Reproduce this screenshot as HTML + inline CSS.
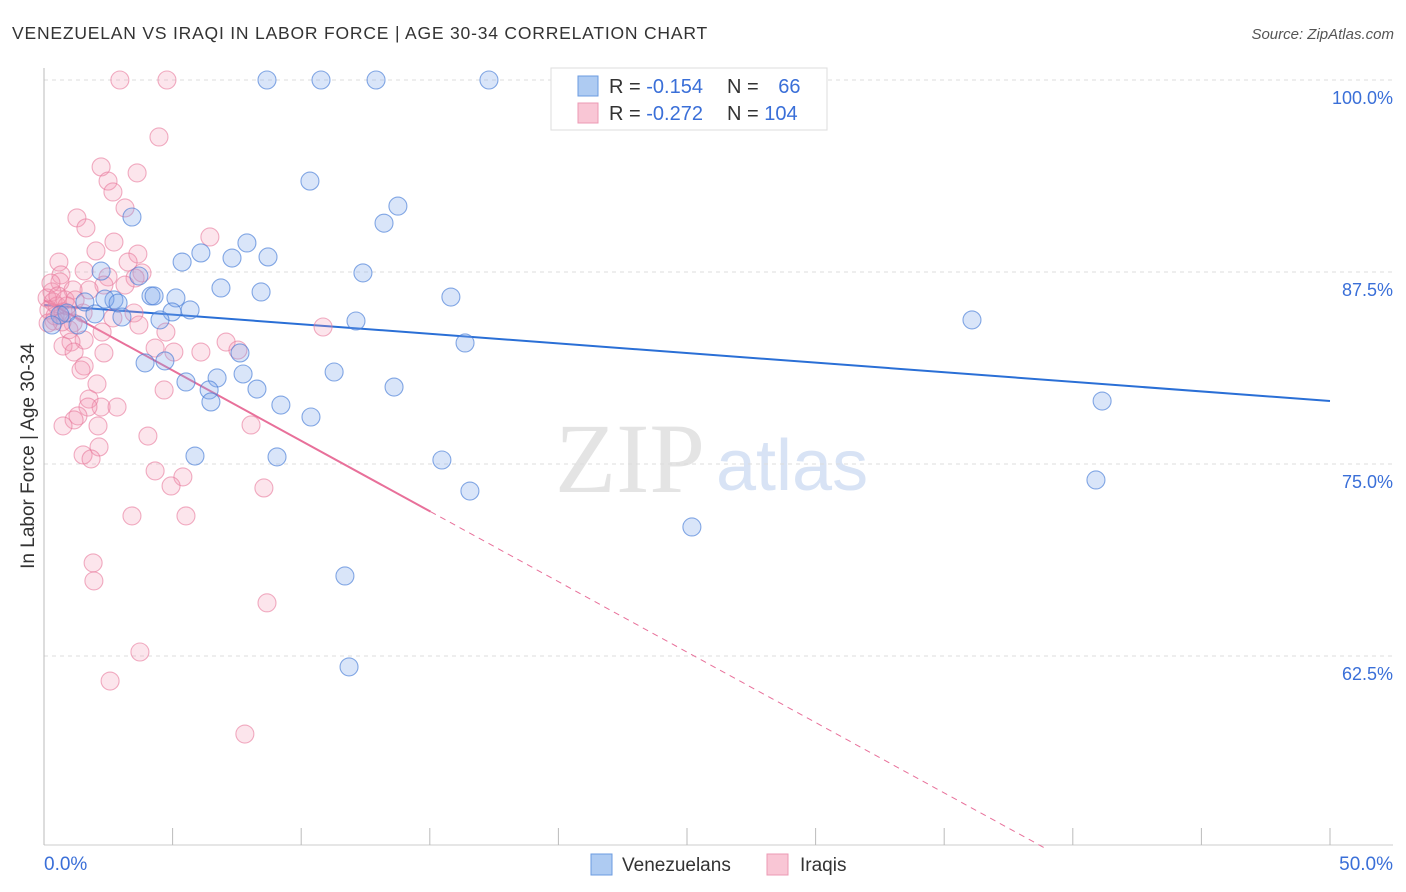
<!DOCTYPE html>
<html><head><meta charset="utf-8"><style>
body{margin:0;background:#fff;font-family:"Liberation Sans",sans-serif;}
svg{display:block}
</style></head><body>
<svg id="chart" width="1406" height="892" xmlns="http://www.w3.org/2000/svg">
<text x="12" y="39" font-size="17.5" fill="#333" letter-spacing="0.8">VENEZUELAN VS IRAQI IN LABOR FORCE | AGE 30-34 CORRELATION CHART</text>
<text x="1394" y="39" font-size="15" fill="#555" font-style="italic" text-anchor="end">Source: ZipAtlas.com</text>
<text transform="translate(34,456) rotate(-90)" font-size="19" fill="#333" text-anchor="middle">In Labor Force | Age 30-34</text>
<text x="555" y="492" font-size="100" fill="#e4e4e4" font-family="Liberation Serif,serif">ZIP</text>
<text x="716" y="490" font-size="72" fill="#d8e3f5">atlas</text>
<g id="grid"></g><g id="axes"></g><g id="trend"></g><g id="pts"></g>
<g>
<rect x="551" y="68" width="276" height="62" fill="#fff" stroke="#ddd"/>
<rect x="578" y="76" width="20" height="20" fill="#aecbf2" stroke="#6b9be0"/>
<rect x="578" y="103" width="20" height="20" fill="#f9c6d5" stroke="#ec9ab4"/>
<text x="609" y="93" font-size="20" fill="#333">R = <tspan fill="#3a6fd8">-0.154</tspan></text>
<text x="727" y="93" font-size="20" fill="#333">N = <tspan fill="#3a6fd8" dx="14">66</tspan></text>
<text x="609" y="120" font-size="20" fill="#333">R = <tspan fill="#3a6fd8">-0.272</tspan></text>
<text x="727" y="120" font-size="20" fill="#333">N = <tspan fill="#3a6fd8">104</tspan></text>
</g>
<g>
<rect x="591" y="854" width="21" height="21" fill="#aecbf2" stroke="#6b9be0"/>
<text x="622" y="871" font-size="19" fill="#333">Venezuelans</text>
<rect x="767" y="854" width="21" height="21" fill="#f9c6d5" stroke="#ec9ab4"/>
<text x="800" y="871" font-size="19" fill="#333">Iraqis</text>
</g>
</svg>
<script>
const yTicks=[100,87.5,75,62.5];
const yTickLabels=["100.0%","87.5%","75.0%","62.5%"];
const xTickLabels=["0.0%","50.0%"];
const venX=[8.67,10.77,12.91,17.30,21.31,10.34,13.76,13.22,3.42,7.89,6.10,7.31,8.71,5.37,2.22,3.69,12.40,6.88,8.44,4.16,4.28,5.13,2.72,2.37,1.59,2.88,5.68,4.98,15.82,3.03,4.51,12.13,36.08,0.89,1.98,0.62,1.32,0.31,16.37,7.62,4.70,3.93,11.28,7.74,6.73,5.52,13.61,6.42,8.28,6.49,9.21,41.14,10.38,5.87,9.06,15.47,16.56,40.90,25.19,11.70,11.86];
const venY=[100,100,100,100,99.9,93.42,91.79,90.68,91.08,89.39,88.74,88.41,88.48,88.15,87.56,87.24,87.44,86.46,86.20,85.94,85.94,85.81,85.68,85.74,85.55,85.48,85.03,84.90,85.87,84.57,84.38,84.31,84.38,84.83,84.77,84.70,84.05,84.05,82.88,82.23,81.71,81.58,80.99,80.86,80.60,80.34,80.01,79.82,79.88,79.04,78.84,79.10,78.06,75.52,75.46,75.26,73.24,73.96,70.90,67.71,61.79];
const iraX=[2.95,4.78,4.47,2.22,3.62,2.49,2.68,3.15,1.28,1.63,6.45,2.72,3.65,2.02,0.58,3.27,0.66,1.56,3.81,2.49,3.54,0.62,2.33,3.15,1.75,1.13,0.31,0.12,0.35,0.51,0.82,1.21,0.19,0.74,1.52,3.50,2.68,0.39,1.13,3.69,0.97,2.26,4.74,10.85,1.56,1.05,7.08,0.74,4.32,7.54,1.17,5.05,6.10,2.33,1.56,1.44,2.06,4.67,1.75,2.22,2.84,1.71,1.32,1.17,8.05,0.74,2.10,4.04,2.14,1.52,1.83,4.32,5.40,4.94,8.55,3.42,5.52,1.91,1.94,8.67,3.73,2.57,7.81,0.27,0.43,0.89,0.54,0.70,0.16];
const iraY=[100,100,96.29,94.34,93.95,93.42,92.71,91.67,91.02,90.37,89.78,89.45,88.67,88.87,88.15,88.15,87.31,87.57,87.44,87.18,87.11,86.85,86.65,86.65,86.33,86.33,86.20,85.81,85.55,85.29,85.68,85.68,85.03,84.90,84.83,84.83,84.51,84.31,84.18,84.05,83.74,83.59,83.59,83.92,83.07,82.94,82.94,82.68,82.55,82.42,82.29,82.29,82.29,82.23,81.38,81.12,80.21,79.82,79.23,78.71,78.71,78.71,78.13,77.87,77.54,77.48,77.48,76.82,76.11,75.59,75.33,74.55,74.16,73.57,73.44,71.62,71.62,68.56,67.39,65.96,62.76,60.87,57.42,86.78,84.64,85.29,85.94,84.25,84.18];
const venTrend=[85.35,79.10];   // y at x=0 and x=50
const iraTrend=[85.68,-0.917];  // intercept, slope
const iraSolidEnd=15.03;
const NS="http://www.w3.org/2000/svg";
const X=v=>44+v/50*1286, Y=v=>80+(100-v)/12.5*192;
function mk(t,a,p){const e=document.createElementNS(NS,t);for(const k in a)e.setAttribute(k,a[k]);p.appendChild(e);return e;}
const grid=document.getElementById('grid'),axes=document.getElementById('axes'),trend=document.getElementById('trend'),pts=document.getElementById('pts');
yTicks.forEach((v,i)=>{
 const l=mk('line',{x1:44,x2:1393,y1:Y(v),y2:Y(v),stroke:'#ddd','stroke-dasharray':'4,4'},grid);
 
 
 const t=mk('text',{x:1393,y:Y(v)+24,'font-size':18,fill:'#3a6fd8','text-anchor':'end'},grid);
 t.textContent=yTickLabels[i];
 
 
});
const la=mk('line',{x1:44,x2:44,y1:68,y2:845,stroke:'#bbb'},axes);


const ba=mk('line',{x1:44,x2:1393,y1:845,y2:845,stroke:'#ccc'},axes);


for(let i=0;i<=10;i++){const t=mk('line',{x1:X(i*5),x2:X(i*5),y1:828,y2:845,stroke:'#bbb'},axes);
 
 }
[[0,'start',44],[50,'end',1393]].forEach((d,i)=>{const t=mk('text',{x:d[2],y:870,'font-size':19,fill:'#3a6fd8','text-anchor':d[1]},axes);t.textContent=xTickLabels[i];
 
 });
const bt=mk('line',{x1:X(0),y1:Y(venTrend[0]),x2:X(50),y2:Y(venTrend[1]),stroke:'#2a6fd6','stroke-width':2},trend);


const yEnd=iraTrend[0]+iraTrend[1]*iraSolidEnd;
const xZero=(50-iraTrend[0])/iraTrend[1];
const pt=mk('line',{x1:X(0),y1:Y(iraTrend[0]),x2:X(iraSolidEnd),y2:Y(yEnd),stroke:'#e8709a','stroke-width':2},trend);


const pd=mk('line',{x1:X(iraSolidEnd),y1:Y(yEnd),x2:X(xZero),y2:Y(50),stroke:'#e8709a','stroke-width':1,'stroke-dasharray':'6,5'},trend);


iraX.forEach((v,i)=>{const c=mk('circle',{cx:X(v),cy:Y(iraY[i]),r:9,fill:'rgba(243,150,180,0.25)',stroke:'rgba(232,120,155,0.6)','stroke-width':1.1},pts);
 
 });
venX.forEach((v,i)=>{const c=mk('circle',{cx:X(v),cy:Y(venY[i]),r:9,fill:'rgba(130,170,235,0.3)',stroke:'rgba(70,125,215,0.65)','stroke-width':1.1},pts);
 
 });
</script>
</body></html>
